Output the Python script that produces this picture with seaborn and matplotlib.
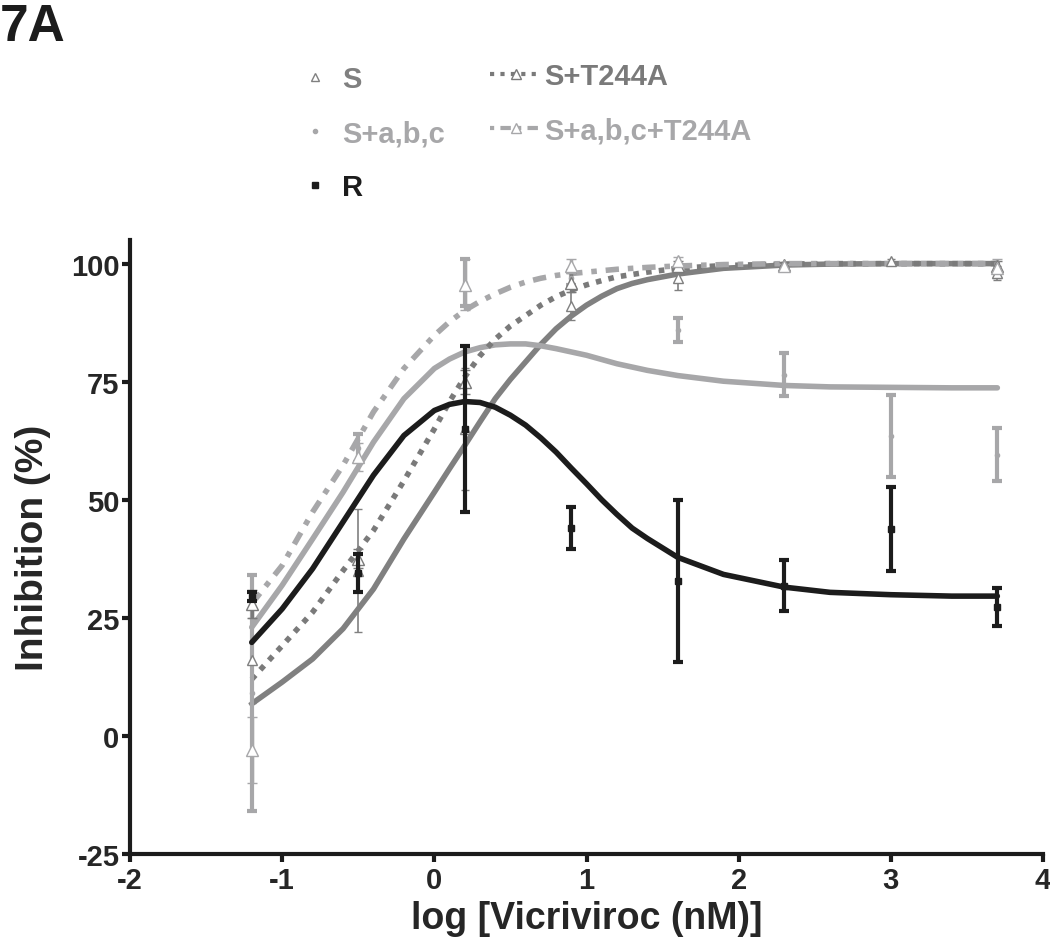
import numpy as np
import pandas as pd
import matplotlib
matplotlib.use('Agg')
import matplotlib.pyplot as plt
import seaborn as sns
from matplotlib.lines import Line2D

# dose points (log nM)
dose_x = [-1.2, -0.5, 0.2, 0.9, 1.6, 2.3, 3.0, 3.7]
dose_x_t = [-1.2, -0.5, 0.2, 0.9, 1.6, 2.3, 3.7]

s_y = [16, 35, 65, 91, 97, 99.5, 100.5, 98]
s_err = [9, 13, 13, 3, 2.5, 0.8, 0.5, 1.5]
sabc_y = [9, 61, 96, 97, 86, 76.5, 63.5, 59.5]
sabc_err = [25, 3, 5, 1.5, 2.5, 4.5, 8.6, 5.6]
r_y = [29.5, 34.5, 65, 44, 32.8, 31.8, 43.8, 27.3]
r_err = [1, 4, 17.5, 4.5, 17.2, 5.4, 8.8, 4]
st_y = [28, 37.5, 75, 96, 99.5, 99.8, 99.5]
st_err = [3, 2, 2.5, 2, 1, 0.5, 1]
sabct_y = [-3, 59, 95.5, 99.5, 100.5, 99.5, 99]
sabct_err = [7, 3, 5.4, 1.5, 1, 0.5, 2]

# fitted curves, sampled from the figure
curve_x = [-1.2, -1.0, -0.8, -0.6, -0.4, -0.2, 0.0, 0.1, 0.2, 0.3, 0.4, 0.5,
           0.6, 0.7, 0.8, 0.9, 1.0, 1.1, 1.2, 1.3, 1.4, 1.6, 1.9, 2.3, 2.6,
           3.0, 3.4, 3.7]
fit_s = [6.8, 11.4, 16.3, 22.7, 31.1, 41.7, 51.6, 56.6, 61.5, 66.5, 71.4, 75.5,
         79.2, 82.9, 86.2, 88.9, 91.2, 93.1, 94.7, 95.8, 96.6, 97.8, 99.0, 99.7, 99.9,
         100, 100, 100]
fit_sabc = [23.0, 31.9, 41.7, 51.6, 62.2, 71.4, 77.8, 79.8, 81.3, 82.2, 82.8, 83.0,
            83.0, 82.6, 82.0, 81.3, 80.6, 79.7, 78.8, 78.1, 77.4, 76.3, 75.1, 74.2, 73.9,
            73.8, 73.7, 73.7]
fit_r = [19.8, 26.9, 35.4, 45.3, 55.2, 63.6, 68.9, 70.2, 70.8, 70.6, 69.6, 67.9,
         65.8, 63.1, 60.1, 56.7, 53.4, 50.0, 46.9, 44.0, 41.8, 37.8, 34.2, 31.5, 30.4,
         29.9, 29.6, 29.6]
fit_st = [12.0, 19.1, 26.2, 35.0, 43.5, 54.0, 65.0, 70.8, 76.0, 80.5, 84.0, 86.8,
          89.0, 91.2, 93.0, 94.4, 95.5, 96.4, 97.2, 97.7, 98.2, 99.0, 99.6, 99.9, 100,
          100, 100, 100]
fit_sabct = [28.0, 36.1, 47.4, 57.3, 68.6, 77.8, 84.8, 87.7, 90.1, 92.0, 93.6, 95.0,
             96.1, 96.9, 97.5, 97.9, 98.2, 98.5, 98.8, 99.0, 99.2, 99.5, 99.8, 100, 100,
             100, 100, 100]

labels = ['S', 'S+a,b,c', 'R', 'S+T244A', 'S+a,b,c+T244A']

c_s = '#808080'
c_light = '#a7a7a9'
c_r = '#1c1c1c'
c_st = '#7a7a7a'

sns.set_style('ticks')
plt.rcParams['font.family'] = ['Liberation Sans', 'DejaVu Sans']
plt.rcParams['font.weight'] = 'bold'

fig = plt.figure(figsize=(10.5, 9.53), dpi=100)
ax = fig.add_axes([130 / 1050, 1 - 855 / 953, 913 / 1050, 614 / 953])

# error bars + markers
ax.errorbar(dose_x, s_y, yerr=s_err, fmt='^', ms=7, mfc='white', mec=c_s,
            mew=1, ecolor=c_s, elinewidth=1.2, capsize=3, capthick=1.2, zorder=3)
ax.errorbar(dose_x, sabc_y, yerr=sabc_err, fmt='o', ms=3, color=c_light,
            elinewidth=3, capsize=3.5, capthick=3, zorder=3)
ax.errorbar(dose_x_t, st_y, yerr=st_err, fmt='^', ms=9, mfc='white', mec=c_st,
            mew=1, ecolor=c_st, elinewidth=2.5, capsize=3.5, capthick=2.5, zorder=3)
ax.errorbar(dose_x_t, sabct_y, yerr=sabct_err, fmt='^', ms=9, mfc='white',
            mec=c_light, mew=1, ecolor=c_light, elinewidth=2.5, capsize=3.5,
            capthick=2.5, zorder=3)
ax.errorbar(dose_x, r_y, yerr=r_err, fmt='s', ms=5, color=c_r,
            elinewidth=3, capsize=3.5, capthick=3, zorder=4)

# fitted curves
lw = 4
sns.lineplot(x=curve_x, y=fit_s, ax=ax, color=c_s, lw=lw, zorder=2)
sns.lineplot(x=curve_x, y=fit_sabc, ax=ax, color=c_light, lw=lw, zorder=2)
sns.lineplot(x=curve_x, y=fit_st, ax=ax, color=c_st, lw=lw, zorder=2,
             linestyle=(0, (1, 1.3)))
sns.lineplot(x=curve_x, y=fit_sabct, ax=ax, color=c_light, lw=lw, zorder=2,
             linestyle=(0, (2.4, 1.6, 1, 1.6)))
sns.lineplot(x=curve_x, y=fit_r, ax=ax, color=c_r, lw=lw, zorder=5)

ax.set_xlim(-2, 4)
ax.set_ylim(-25, 105)
ax.set_xticks([-2, -1, 0, 1, 2, 3, 4])
ax.set_yticks([-25, 0, 25, 50, 75, 100])
ax.set_xticklabels(['-2', '-1', '0', '1', '2', '3', '4'])
ax.set_yticklabels(['-25', '0', '25', '50', '75', '100'])
ax.tick_params(width=3, length=6, labelsize=21, color='#1c1c1c')
ax.tick_params(axis='y', pad=1.5)
ax.tick_params(axis='x', pad=3)
for side in ['left', 'bottom']:
    ax.spines[side].set_linewidth(3)
    ax.spines[side].set_color('#1c1c1c')
sns.despine(ax=ax)
ax.set_xlabel('log [Vicriviroc (nM)]', fontsize=27, fontweight='bold')
ax.set_ylabel('Inhibition (%)', fontsize=28, fontweight='bold')
ax.yaxis.set_label_coords(-0.087, 0.5)

# legend, two blocks
h1 = [Line2D([], [], ls='none', marker='^', ms=6, mfc='white', mec=c_s, mew=1),
      Line2D([], [], ls='none', marker='o', ms=3, color=c_light),
      Line2D([], [], ls='none', marker='s', ms=5, color=c_r)]
leg1 = fig.legend(h1, labels[:3], loc='upper left', bbox_to_anchor=(300 / 1050, 1 - 66 / 953),
                  frameon=False, fontsize=21, labelcolor=[c_s, c_light, c_r],
                  handlelength=1.0, handletextpad=0.45, labelspacing=0.9,
                  borderpad=0, borderaxespad=0)
h2 = [Line2D([], [], color=c_st, lw=3, ls=(0, (1, 1.5)), marker='^', ms=7,
             mfc='white', mec=c_st, mew=1),
      Line2D([], [], color=c_light, lw=3, ls=(0, (1, 1.5, 2.5, 1.5)), marker='^', ms=7,
             mfc='white', mec=c_light, mew=1)]
leg2 = fig.legend(h2, labels[3:], loc='upper left', bbox_to_anchor=(490 / 1050, 1 - 63 / 953),
                  frameon=False, fontsize=21, labelcolor=[c_st, c_light],
                  handlelength=1.75, handletextpad=0.1, labelspacing=0.9,
                  borderpad=0, borderaxespad=0)

fig.text(0.0, 1 - 3 / 953, '7A', ha='left', va='top', fontsize=37, fontweight='bold',
         color='#1c1c1c')

fig.savefig('out.png', dpi=100)
